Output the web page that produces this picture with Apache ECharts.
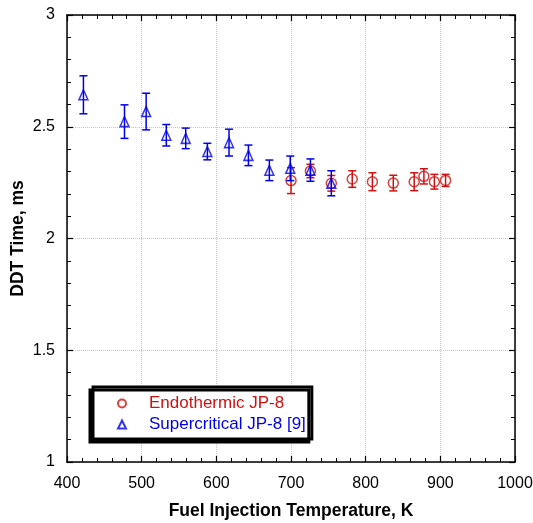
<!DOCTYPE html>
<html>
<head>
<meta charset="utf-8">
<script src="https://cdn.jsdelivr.net/npm/echarts@6/dist/echarts.min.js"></script>
<style>
html,body{margin:0;padding:0;background:#fff;}
#chart{width:533px;height:523px;}
</style>
</head>
<body>
<div id="chart"></div>
<script>
// Supercritical JP-8 [9] (blue triangles)
var superTemp = [422, 477, 506, 533, 559, 588, 617, 643, 671, 699, 726, 754];
var superTime = [2.643, 2.523, 2.568, 2.462, 2.448, 2.389, 2.429, 2.372, 2.305, 2.314, 2.306, 2.247];
var superErr  = [0.085, 0.075, 0.082, 0.048, 0.046, 0.037, 0.060, 0.046, 0.046, 0.055, 0.050, 0.056];
// Endothermic JP-8 (red circles)
var endoTemp = [700, 726, 754, 782, 809, 837, 865, 878, 892, 907];
var endoTime = [2.259, 2.302, 2.247, 2.266, 2.254, 2.248, 2.254, 2.278, 2.254, 2.260];
var endoErr  = [0.058, 0.030, 0.035, 0.037, 0.040, 0.035, 0.040, 0.034, 0.033, 0.027];

var xTicks = [400, 500, 600, 700, 800, 900, 1000];
var yTicks = [1, 1.5, 2, 2.5, 3];

var RED = '#d01010';
var BLUE = '#0000e6';
var FONT = 'Liberation Sans, Arial, sans-serif';

function pts(t, v) { return t.map(function (x, i) { return [x, v[i]]; }); }
function errPts(t, v, e) { return t.map(function (x, i) { return [x, v[i], e[i]]; }); }

function errRender(color) {
  return function (params, api) {
    var x = api.value(0), y = api.value(1), e = api.value(2);
    var hi = api.coord([x, y + e]), lo = api.coord([x, y - e]);
    var w = 4;
    var st = { stroke: color, lineWidth: 1.5 };
    return {
      type: 'group',
      children: [
        { type: 'line', shape: { x1: hi[0], y1: hi[1], x2: lo[0], y2: lo[1] }, style: st },
        { type: 'line', shape: { x1: hi[0] - w, y1: hi[1], x2: hi[0] + w, y2: hi[1] }, style: st },
        { type: 'line', shape: { x1: lo[0] - w, y1: lo[1], x2: lo[0] + w, y2: lo[1] }, style: st }
      ]
    };
  };
}

var axisLineStyle = { color: '#000', width: 1.5 };
var gridLine = { show: true, lineStyle: { color: '#c4c4c4', type: 'dotted', width: 1 } };
function plain(v) { return String(v); }

var chart = echarts.init(document.getElementById('chart'), null, { renderer: 'canvas' });
chart.setOption({
  animation: false,
  textStyle: { fontFamily: FONT },
  grid: { left: 67, right: 18, top: 15, bottom: 61, outerBoundsMode: 'none', containLabel: false },
  xAxis: [{
    type: 'value', position: 'bottom',
    min: xTicks[0], max: xTicks[xTicks.length - 1], interval: 100,
    axisLine: { show: true, onZero: false, lineStyle: axisLineStyle },
    axisTick: { show: true, inside: true, length: 6, lineStyle: { color: '#000', width: 1.2 } },
    minorTick: { show: true, splitNumber: 5, length: 4, lineStyle: { color: '#000', width: 1 } },
    splitLine: gridLine,
    axisLabel: { fontSize: 16, color: '#000', margin: 14, fontFamily: FONT, formatter: plain },
    name: 'Fuel Injection Temperature, K', nameLocation: 'middle', nameGap: 40, nameMoveOverlap: false,
    nameTextStyle: { fontSize: 17.5, fontWeight: 'bold', color: '#000', fontFamily: FONT }
  }, {
    type: 'value', position: 'top',
    min: xTicks[0], max: xTicks[xTicks.length - 1], interval: 100,
    axisLine: { show: true, onZero: false, lineStyle: axisLineStyle },
    axisTick: { show: true, inside: true, length: 6, lineStyle: { color: '#000', width: 1.2 } },
    minorTick: { show: true, splitNumber: 5, length: 4, lineStyle: { color: '#000', width: 1 } },
    splitLine: { show: false },
    axisLabel: { show: false }
  }],
  yAxis: [{
    type: 'value', position: 'left',
    min: yTicks[0], max: yTicks[yTicks.length - 1], interval: 0.5,
    axisLine: { show: true, onZero: false, lineStyle: axisLineStyle },
    axisTick: { show: true, inside: true, length: 6, lineStyle: { color: '#000', width: 1.2 } },
    minorTick: { show: true, splitNumber: 5, length: 4, lineStyle: { color: '#000', width: 1 } },
    splitLine: gridLine,
    axisLabel: { fontSize: 16, color: '#000', margin: 12, fontFamily: FONT, formatter: plain },
    name: 'DDT Time, ms', nameLocation: 'middle', nameGap: 40, nameMoveOverlap: false,
    nameTextStyle: { fontSize: 17.5, fontWeight: 'bold', color: '#000', fontFamily: FONT }
  }, {
    type: 'value', position: 'right',
    min: yTicks[0], max: yTicks[yTicks.length - 1], interval: 0.5,
    axisLine: { show: true, onZero: false, lineStyle: axisLineStyle },
    axisTick: { show: true, inside: true, length: 6, lineStyle: { color: '#000', width: 1.2 } },
    minorTick: { show: true, splitNumber: 5, length: 4, lineStyle: { color: '#000', width: 1 } },
    splitLine: { show: false },
    axisLabel: { show: false }
  }],
  legend: {
    orient: 'vertical', left: 93, top: 387,
    itemWidth: 8, itemHeight: 8, itemGap: 4,
    padding: [8, 6, 6, 24],
    borderColor: '#000', borderWidth: 3, backgroundColor: '#fff',
    shadowColor: '#000', shadowBlur: 0, shadowOffsetX: -3, shadowOffsetY: 3,
    textStyle: { fontSize: 17, fontFamily: FONT, padding: [0, 0, 0, 18], lineHeight: 17 },
    data: [
      { name: 'Endothermic JP-8', textStyle: { color: RED } },
      { name: 'Supercritical JP-8 [9]', textStyle: { color: BLUE } }
    ]
  },
  series: [
    {
      name: 'Endothermic JP-8 err', type: 'custom', renderItem: errRender(RED),
      data: errPts(endoTemp, endoTime, endoErr), z: 2, silent: true
    },
    {
      name: 'Endothermic JP-8', type: 'scatter', symbol: 'circle', symbolSize: 10,
      itemStyle: { color: 'rgba(255,255,255,0)', borderColor: RED, borderWidth: 1.5 },
      data: pts(endoTemp, endoTime), z: 3
    },
    {
      name: 'Supercritical JP-8 err', type: 'custom', renderItem: errRender(BLUE),
      data: errPts(superTemp, superTime, superErr), z: 4, silent: true
    },
    {
      name: 'Supercritical JP-8 [9]', type: 'scatter', symbol: 'triangle', symbolSize: [9, 10],
      itemStyle: { color: 'rgba(255,255,255,0)', borderColor: BLUE, borderWidth: 1.5 },
      data: pts(superTemp, superTime), z: 5
    }
  ]
});
</script>
</body>
</html>
